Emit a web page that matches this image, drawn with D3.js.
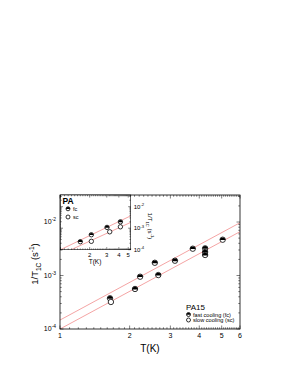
<!DOCTYPE html>
<html><head><meta charset="utf-8">
<script src="https://cdn.jsdelivr.net/npm/d3@7"></script>
<style>body{margin:0;background:#fff}svg{display:block;font-family:"Liberation Sans",Arial,sans-serif}</style>
</head><body><svg id="c" width="286" height="371"></svg>
<script>
// ---- data ----
const mainFcT = [1.645, 2.11, 2.22, 2.57, 2.66, 3.14, 3.75, 4.24, 4.24, 4.24, 5.05];
const mainFcV = [3.75e-4, 5.6e-4, 9.5e-4, 1.73e-3, 1.02e-3, 1.89e-3, 3.17e-3, 3.22e-3, 2.75e-3, 2.42e-3, 4.67e-3];
const mainScT = [1.66];
const mainScV = [3.2e-4];
const mainFitFc = [[1, 1.47e-4], [6, 9.7e-3]];
const mainFitSc = [[1, 1.0e-4], [6, 6.6e-3]];
const insetFcT = [1.60, 2.08, 3.02, 4.15];
const insetFcV = [2.35e-4, 4.95e-4, 1.09e-3, 1.98e-3];
const insetScT = [2.08, 3.22, 4.15];
const insetScV = [2.45e-4, 6.8e-4, 1.16e-3];
const insetFitFc = [[1, 1.0e-4], [5.3, 3.75e-3]];
const insetFitSc = [[1.288, 1.0e-4], [5.3, 1.86e-3]];
const mainXTicks = [1, 2, 3, 4, 5, 6];
const mainYTicks = [1e-4, 1e-3, 1e-2];
const insetXTicks = [2, 3, 4, 5];
const insetYTicks = [1e-4, 1e-3, 1e-2];
const legendLabels = ["fast cooling (fc)", "slow cooling (sc)"];
const insetLegendLabels = ["fc", "sc"];

const svg = d3.select("#c");
const lineColor = "#f39a9a";

function minorLog(dom) {
  const out = [];
  for (let e = Math.floor(Math.log10(dom[0])); e <= Math.ceil(Math.log10(dom[1])); e++)
    for (let k = 1; k < 10; k++) { const v = k * Math.pow(10, e); if (v >= dom[0] * 0.999 && v <= dom[1] * 1.001) out.push(v); }
  return out;
}
function minorX(dom) {
  const out = [];
  for (let v = 10; v <= dom[1] * 10 + 0.01; v++) { const t = v / 10; if (t >= dom[0] && t <= dom[1]) out.push(t); }
  return out;
}
function supLabel(sel, base, sup, fs) {
  sel.append("tspan").text(base);
  sel.append("tspan").attr("dy", -fs * 0.45).attr("font-size", fs * 0.7).text(sup);
}
function marker(g, x, y, r, filled) {
  g.append("circle").attr("cx", x).attr("cy", y).attr("r", r).attr("fill", "#fff").attr("stroke", "#000").attr("stroke-width", 0.8);
  if (filled) {
    g.append("path").attr("d", `M${x - r},${y + r * 0.15} A${r},${r} 0 1 1 ${x + r},${y + r * 0.15} Z`).attr("fill", "#000");
  }
}

function panel(opt) {
  const { L, R, T, B, xDom, yDom, xMaj, yMaj, xLabelFs, yLabelSide, fitFc, fitSc, fcT, fcV, scT, scV, r, tick } = opt;
  const x = d3.scaleLog().domain(xDom).range([L, R]);
  const y = d3.scaleLog().domain(yDom).range([B, T]);
  const g = svg.append("g");
  g.append("rect").attr("x", L).attr("y", T).attr("width", R - L).attr("height", B - T).attr("fill", "#fff");
  const clipId = "clip" + Math.round(L) + Math.round(T) + Math.round(R);
  svg.append("clipPath").attr("id", clipId).append("rect").attr("x", L).attr("y", T).attr("width", R - L).attr("height", B - T);
  const lg = g.append("g").attr("clip-path", `url(#${clipId})`);
  const line = d3.line().x(d => x(d[0])).y(d => y(d[1]));
  [fitFc, fitSc].forEach(f => lg.append("path").attr("d", line(f)).attr("fill", "none").attr("stroke", lineColor).attr("stroke-width", 0.9));
  const tg = g.append("g").attr("stroke", "#000").attr("stroke-width", 0.5);
  const xmin = minorX(xDom), ymin = minorLog(yDom);
  xmin.forEach(v => {
    const isMaj = xMaj.includes(v) || Math.abs(v - 1) < 1e-9;
    const len = isMaj ? tick : tick / 2;
    tg.append("line").attr("x1", x(v)).attr("x2", x(v)).attr("y1", B).attr("y2", B - len);
    tg.append("line").attr("x1", x(v)).attr("x2", x(v)).attr("y1", T).attr("y2", T + len);
  });
  ymin.forEach(v => {
    const isMaj = Math.abs(Math.log10(v) - Math.round(Math.log10(v))) < 1e-6;
    const len = isMaj ? tick : tick / 2;
    tg.append("line").attr("y1", y(v)).attr("y2", y(v)).attr("x1", L).attr("x2", L + len);
    tg.append("line").attr("y1", y(v)).attr("y2", y(v)).attr("x1", R).attr("x2", R - len);
  });
  g.append("rect").attr("x", L).attr("y", T).attr("width", R - L).attr("height", B - T).attr("fill", "none").attr("stroke", "#000").attr("stroke-width", opt.frame);
  xMaj.forEach(v => g.append("text").attr("x", x(v)).attr("y", B + opt.xLabOff).attr("text-anchor", "middle").attr("font-size", xLabelFs).text(v));
  yMaj.forEach(v => {
    const e = Math.round(Math.log10(v));
    const t = g.append("text").attr("y", y(v) + xLabelFs * 0.35).attr("font-size", xLabelFs);
    if (yLabelSide === "left") t.attr("x", L - 4).attr("text-anchor", "end");
    else t.attr("x", R + 3).attr("text-anchor", "start");
    supLabel(t, "10", String(e), xLabelFs);
  });
  const pg = g.append("g");
  fcT.forEach((t, i) => marker(pg, x(t), y(fcV[i]), r, true));
  scT.forEach((t, i) => marker(pg, x(t), y(scV[i]), r, false));
  return { x, y, g };
}

panel({ L: 60, R: 240, T: 195, B: 329, xDom: [1, 6], yDom: [1e-4, 3.2e-2], xMaj: mainXTicks, yMaj: mainYTicks,
  xLabelFs: 7, xLabOff: 9, yLabelSide: "left", fitFc: mainFitFc, fitSc: mainFitSc,
  fcT: mainFcT, fcV: mainFcV, scT: mainScT, scV: mainScV, r: 2.7, tick: 3.5, frame: 0.8 });

svg.append("text").attr("x", 150).attr("y", 352).attr("text-anchor", "middle").attr("font-size", 10).text("T(K)");
const yl = svg.append("text").attr("transform", "translate(38,264) rotate(-90)").attr("text-anchor", "middle").attr("font-size", 9.5);
yl.append("tspan").text("1/T");
yl.append("tspan").attr("font-size", 6.5).attr("dy", 2.5).text("1C");
yl.append("tspan").attr("dy", -2.5).text(" (s");
yl.append("tspan").attr("font-size", 6.5).attr("dy", -4).text("-1");
yl.append("tspan").attr("dy", 4).text(")");

svg.append("text").attr("x", 186).attr("y", 310).attr("font-size", 8).text("PA15");
marker(svg, 188.5, 314.5, 2, true);
marker(svg, 188.5, 320, 2, false);
svg.append("text").attr("x", 193).attr("y", 316.5).attr("font-size", 5.6).text(legendLabels[0]);
svg.append("text").attr("x", 193).attr("y", 322).attr("font-size", 5.6).text(legendLabels[1]);

panel({ L: 60.5, R: 130.7, T: 195, B: 249.7, xDom: [1, 5.3], yDom: [1e-4, 3.5e-2], xMaj: insetXTicks, yMaj: insetYTicks,
  xLabelFs: 6, xLabOff: 7.5, yLabelSide: "right", fitFc: insetFitFc, fitSc: insetFitSc,
  fcT: insetFcT, fcV: insetFcV, scT: insetScT, scV: insetScV, r: 2.2, tick: 2.5, frame: 0.6 });

svg.append("text").attr("x", 95).attr("y", 263.5).attr("text-anchor", "middle").attr("font-size", 6.5).text("T(K)");
const iyl = svg.append("text").attr("transform", "translate(148,226) rotate(90)").attr("text-anchor", "middle").attr("font-size", 6);
iyl.append("tspan").text("1/T");
iyl.append("tspan").attr("font-size", 4.2).attr("dy", 1.6).text("1C");
iyl.append("tspan").attr("dy", -1.6).text(" (s");
iyl.append("tspan").attr("font-size", 4.2).attr("dy", -2.5).text("-1");
iyl.append("tspan").attr("dy", 2.5).text(")");

svg.append("text").attr("x", 62.5).attr("y", 203.5).attr("font-size", 8.5).attr("font-weight", "bold").text("PA");
marker(svg, 68, 208.8, 2, true);
marker(svg, 68, 217, 2, false);
svg.append("text").attr("x", 73).attr("y", 210.8).attr("font-size", 5.5).text(insetLegendLabels[0]);
svg.append("text").attr("x", 73).attr("y", 219).attr("font-size", 5.5).text(insetLegendLabels[1]);
</script></body></html>
